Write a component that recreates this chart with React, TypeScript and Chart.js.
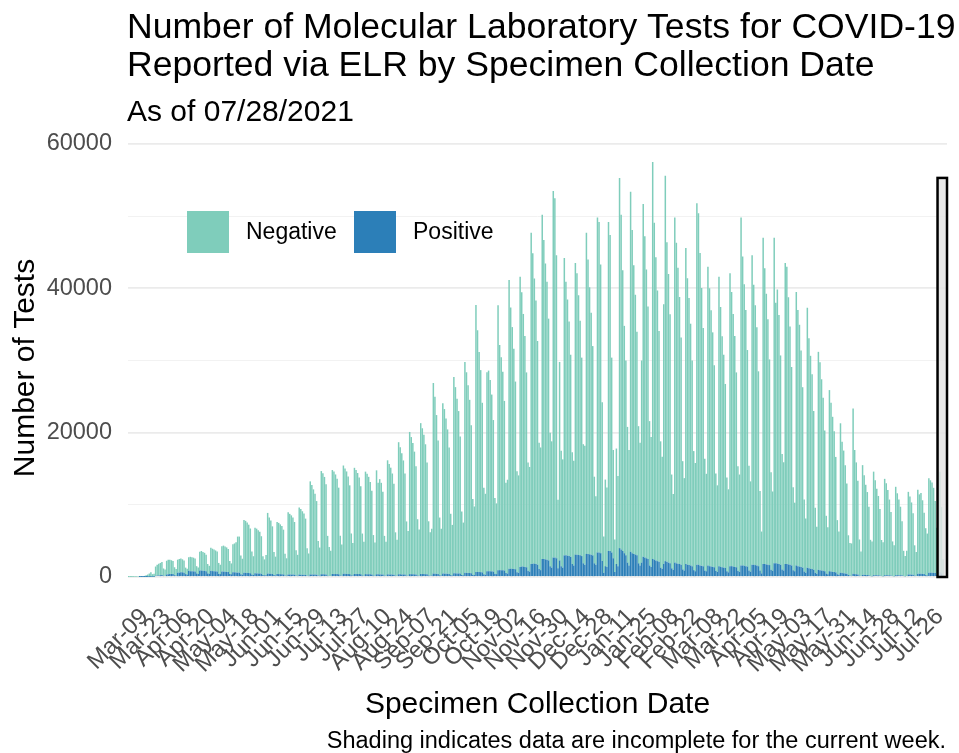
import React, { useEffect, useRef } from 'react';
import { Chart, registerables } from 'chart.js';

Chart.register(...registerables);

const FONT = '"Liberation Sans", Arial, Helvetica, sans-serif';

const titleLines = [
  'Number of Molecular Laboratory Tests for COVID-19',
  'Reported via ELR by Specimen Collection Date',
];
const subtitle = 'As of 07/28/2021';
const yTitle = 'Number of Tests';
const xTitle = 'Specimen Collection Date';
const caption = 'Shading indicates data are incomplete for the current week.';
const seriesNames = ['Negative', 'Positive'];
const seriesColors = ['#7fcdbb', '#2c7fb8'];

// first and last day of the date axis
const startDate = '2020-02-28';
const endDate = '2021-07-30';
// the "current week" shading
const shadeStartDate = '2021-07-25';
const shadeTop = 55300;

const tickDates = [
  '2020-03-09', '2020-03-23', '2020-04-06', '2020-04-20', '2020-05-04', '2020-05-18',
  '2020-06-01', '2020-06-15', '2020-06-29', '2020-07-13', '2020-07-27', '2020-08-10',
  '2020-08-24', '2020-09-07', '2020-09-21', '2020-10-05', '2020-10-19', '2020-11-02',
  '2020-11-16', '2020-11-30', '2020-12-14', '2020-12-28', '2021-01-11', '2021-01-25',
  '2021-02-08', '2021-02-22', '2021-03-08', '2021-03-22', '2021-04-05', '2021-04-19',
  '2021-05-03', '2021-05-17', '2021-05-31', '2021-06-14', '2021-06-28', '2021-07-12',
  '2021-07-26',
];

// daily counts from 2020-02-28, weeks Monday..Sunday
const negative = [
  10, 5, 5,
  20, 30, 40, 60, 90, 40, 30, // Mar 02
  150, 220, 320, 450, 600, 350, 400, // Mar 09
  1300, 1500, 1600, 1700, 1800, 1000, 900, // Mar 16
  1900, 2000, 2000, 1900, 1800, 1100, 900, // Mar 23
  1800, 1900, 1900, 1800, 1700, 900, 800, // Mar 30
  1900, 2000, 1950, 1900, 1800, 1000, 900, // Apr 06
  2600, 2700, 2600, 2500, 2300, 1300, 1100, // Apr 13
  3200, 3100, 3000, 2900, 2800, 1500, 1300, // Apr 20
  3500, 3600, 3500, 3400, 3200, 1800, 1500, // Apr 27
  3900, 4000, 4200, 5000, 5000, 2600, 2200, // May 04
  7300, 7200, 7000, 6700, 6200, 3200, 2600, // May 11
  6300, 6200, 6000, 5800, 5200, 2600, 2200, // May 18
  2800, 8400, 7800, 7400, 6600, 3200, 2600, // May 25
  7200, 7100, 6900, 6700, 6200, 3000, 2400, // Jun 01
  8600, 8400, 8200, 7900, 7300, 3500, 2900, // Jun 08
  9300, 9100, 8800, 8500, 7800, 3800, 3100, // Jun 15
  12900, 12400, 11800, 11200, 10200, 4800, 3900, // Jun 22
  14300, 14000, 13500, 12500, 5500, 4000, 3500, // Jun 29
  14400, 14200, 13800, 13200, 12000, 5500, 4300, // Jul 06
  15000, 14600, 14200, 13500, 12300, 5800, 4500, // Jul 13
  14700, 14400, 14000, 13400, 12200, 5800, 4700, // Jul 20
  14200, 13900, 13500, 12800, 11600, 5600, 4600, // Jul 27
  14400, 12700, 13200, 12700, 11500, 5500, 4700, // Aug 03
  15800, 15300, 14800, 14000, 12600, 6000, 5000, // Aug 10
  18300, 17600, 16800, 15800, 14000, 7500, 6200, // Aug 17
  19700, 19000, 18200, 17000, 15000, 7800, 6400, // Aug 24
  20900, 20200, 19300, 18000, 15500, 7500, 6000, // Aug 31
  6500, 26400, 24500, 22000, 18500, 8000, 6500, // Sep 07
  23600, 22800, 21500, 20000, 17500, 8500, 7000, // Sep 14
  27200, 25800, 24200, 22500, 19000, 8800, 7300, // Sep 21
  29200, 27800, 26000, 24000, 20500, 10500, 9500, // Sep 28
  37000, 33500, 30500, 28000, 23500, 12000, 11200, // Oct 05
  27600, 27800, 26500, 24500, 21000, 10500, 9800, // Oct 12
  36700, 31200, 29500, 27500, 23500, 12500, 13000, // Oct 19
  40000, 36200, 33500, 30500, 26000, 14000, 13500, // Oct 26
  40200, 38000, 35000, 32000, 27000, 15000, 14500, // Nov 02
  45900, 43000, 39500, 36500, 31000, 17500, 17000, // Nov 09
  47700, 44200, 41000, 38500, 33500, 18500, 17500, // Nov 16
  50800, 49800, 42000, 9500, 27500, 16000, 15000, // Nov 23
  41200, 37900, 35500, 32500, 28000, 15500, 14500, // Nov 30
  40400, 39000, 36000, 32500, 27500, 16500, 16500, // Dec 07
  44500, 40800, 37000, 33500, 29000, 12000, 9500, // Dec 14
  46400, 45800, 40000, 22000, 5000, 12000, 11000, // Dec 21
  45600, 43800, 27000, 15000, 4500, 16000, 12500, // Dec 28
  51300, 46400, 38900, 31500, 27000, 18800, 16000, // Jan 04
  49900, 44800, 40000, 36000, 31000, 19000, 17000, // Jan 11
  28000, 48900, 44500, 40000, 35000, 20000, 18000, // Jan 18
  55000, 46700, 42000, 37500, 32000, 17500, 15500, // Jan 25
  36000, 53400, 44300, 40000, 34500, 13000, 10500, // Feb 01
  47800, 44400, 41000, 37000, 31500, 15000, 12800, // Feb 08
  43800, 39700, 37000, 33500, 28500, 16500, 15000, // Feb 15
  50100, 48700, 43300, 38500, 33000, 15500, 13500, // Feb 22
  41400, 38500, 35500, 32500, 28000, 13500, 12000, // Mar 01
  40100, 36000, 32000, 29500, 25500, 13000, 11500, // Mar 08
  40600, 38000, 35000, 32000, 27000, 14500, 13500, // Mar 15
  48200, 42800, 39000, 35500, 30000, 14500, 12500, // Mar 22
  42900, 38800, 36000, 33000, 27000, 11000, 5800, // Mar 29
  45200, 41000, 37500, 34000, 28500, 13500, 11000, // Apr 05
  45100, 36100, 38000, 34500, 29000, 16000, 15000, // Apr 12
  41700, 41200, 37000, 33000, 27500, 11500, 9500, // Apr 19
  37900, 35500, 33500, 30000, 25000, 10000, 7500, // Apr 26
  36000, 31900, 29500, 27000, 22000, 9000, 6500, // May 03
  30200, 28800, 26500, 24000, 19500, 8000, 6500, // May 10
  25100, 23400, 21500, 19500, 16000, 7500, 6000, // May 17
  20700, 18200, 17000, 15000, 12500, 5500, 4500, // May 24
  4500, 22900, 17200, 15500, 13000, 5000, 3400, // May 31
  15200, 13800, 12500, 11500, 9500, 5000, 4800, // Jun 07
  14350, 13150, 12000, 11000, 9200, 5000, 4700, // Jun 14
  13350, 12750, 11800, 10500, 8800, 4800, 4300, // Jun 21
  12250, 11350, 10500, 9500, 7500, 3500, 2800, // Jun 28
  3500, 11450, 10800, 10000, 8500, 4200, 3300, // Jul 05
  11650, 11000, 11200, 10200, 8500, 6500, 5800, // Jul 12
  13100, 12800, 12500, 11800, 10000, 6500, 5500, // Jul 19
  13900, 9200, 2300, // Jul 26
];

const positive = [
  0, 0, 0,
  0, 0, 0, 0, 2, 1, 1, // Mar 02
  5, 10, 20, 30, 50, 40, 40, // Mar 09
  150, 200, 220, 250, 280, 180, 150, // Mar 16
  350, 380, 400, 420, 420, 250, 200, // Mar 23
  600, 600, 650, 650, 600, 400, 350, // Mar 30
  850, 800, 800, 780, 750, 500, 400, // Apr 06
  900, 900, 850, 850, 800, 500, 450, // Apr 13
  850, 820, 800, 780, 750, 450, 400, // Apr 20
  750, 750, 720, 700, 680, 420, 380, // Apr 27
  650, 650, 620, 600, 600, 380, 330, // May 04
  600, 580, 560, 550, 520, 330, 280, // May 11
  520, 500, 480, 470, 450, 280, 240, // May 18
  250, 480, 460, 440, 420, 260, 220, // May 25
  420, 400, 390, 380, 360, 220, 190, // Jun 01
  360, 350, 340, 330, 320, 200, 170, // Jun 08
  330, 320, 310, 300, 290, 180, 160, // Jun 15
  350, 350, 340, 330, 320, 200, 180, // Jun 22
  380, 380, 370, 350, 200, 150, 130, // Jun 29
  420, 420, 410, 400, 380, 220, 190, // Jul 06
  450, 440, 430, 420, 400, 230, 200, // Jul 13
  430, 420, 410, 400, 380, 220, 190, // Jul 20
  400, 390, 380, 370, 350, 210, 180, // Jul 27
  380, 370, 360, 350, 330, 200, 170, // Aug 03
  370, 360, 350, 340, 320, 190, 170, // Aug 10
  380, 370, 360, 350, 330, 200, 180, // Aug 17
  400, 390, 380, 370, 350, 210, 180, // Aug 24
  420, 410, 400, 390, 370, 220, 190, // Aug 31
  200, 480, 460, 440, 400, 240, 200, // Sep 07
  480, 470, 460, 450, 430, 260, 220, // Sep 14
  520, 510, 500, 490, 470, 280, 240, // Sep 21
  580, 570, 560, 550, 520, 310, 270, // Sep 28
  700, 690, 680, 670, 640, 380, 330, // Oct 05
  780, 800, 790, 780, 750, 450, 400, // Oct 12
  950, 950, 940, 930, 900, 550, 480, // Oct 19
  1150, 1150, 1130, 1120, 1080, 650, 580, // Oct 26
  1400, 1450, 1450, 1400, 1350, 850, 750, // Nov 02
  1800, 1850, 1850, 1800, 1700, 1100, 950, // Nov 09
  2500, 2500, 2450, 2400, 2300, 1500, 1300, // Nov 16
  2700, 2700, 2600, 1200, 2300, 1500, 1300, // Nov 23
  3000, 3000, 2950, 2900, 2800, 1800, 1600, // Nov 30
  3100, 3100, 3050, 3000, 2900, 1900, 1700, // Dec 07
  3200, 3200, 3150, 3100, 3000, 1900, 1700, // Dec 14
  3400, 3400, 3300, 2200, 600, 1500, 1400, // Dec 21
  3600, 3600, 3400, 2600, 700, 1800, 1500, // Dec 28
  4000, 3800, 3600, 3300, 3000, 2000, 1600, // Jan 04
  3500, 3300, 3200, 3100, 3000, 1900, 1600, // Jan 11
  2000, 2800, 2700, 2600, 2500, 1600, 1400, // Jan 18
  2500, 2400, 2300, 2200, 2100, 1300, 1150, // Jan 25
  1800, 2200, 2100, 2000, 1900, 1200, 1000, // Feb 01
  2000, 1900, 1850, 1800, 1700, 1050, 900, // Feb 08
  1800, 1700, 1650, 1600, 1500, 950, 800, // Feb 15
  1700, 1700, 1600, 1550, 1500, 900, 800, // Feb 22
  1600, 1500, 1450, 1400, 1350, 850, 700, // Mar 01
  1500, 1400, 1350, 1300, 1250, 800, 650, // Mar 08
  1500, 1500, 1450, 1400, 1350, 850, 700, // Mar 15
  1600, 1600, 1550, 1500, 1450, 900, 750, // Mar 22
  1700, 1700, 1650, 1600, 1500, 900, 500, // Mar 29
  1800, 1800, 1750, 1700, 1650, 1000, 850, // Apr 05
  1900, 1900, 1850, 1800, 1700, 1050, 900, // Apr 12
  1800, 1800, 1750, 1700, 1600, 950, 800, // Apr 19
  1600, 1500, 1450, 1400, 1300, 750, 600, // Apr 26
  1300, 1200, 1150, 1100, 1000, 600, 450, // May 03
  1000, 950, 900, 850, 800, 480, 380, // May 10
  800, 750, 700, 680, 640, 380, 300, // May 17
  600, 550, 520, 500, 460, 280, 220, // May 24
  150, 450, 400, 380, 350, 200, 150, // May 31
  300, 300, 280, 270, 250, 150, 120, // Jun 07
  250, 250, 240, 230, 220, 130, 110, // Jun 14
  250, 250, 240, 230, 220, 130, 110, // Jun 21
  250, 250, 250, 240, 230, 130, 110, // Jun 28
  150, 350, 340, 330, 320, 190, 160, // Jul 05
  450, 450, 440, 430, 420, 260, 220, // Jul 12
  600, 600, 580, 560, 540, 330, 280, // Jul 19
  700, 500, 150, // Jul 26
];

const yTickStep = 10000;
const yLabelStep = 20000;
const yMax = 60000;

const MONTHS = ['Jan', 'Feb', 'Mar', 'Apr', 'May', 'Jun', 'Jul', 'Aug', 'Sep', 'Oct', 'Nov', 'Dec'];

function buildDays(start: string, end: string): string[] {
  const out: string[] = [];
  const d = new Date(start + 'T00:00:00Z');
  const e = new Date(end + 'T00:00:00Z');
  while (d.getTime() <= e.getTime()) {
    out.push(d.toISOString().slice(0, 10));
    d.setUTCDate(d.getUTCDate() + 1);
  }
  return out;
}

function fmtDay(iso: string): string {
  const m = parseInt(iso.slice(5, 7), 10) - 1;
  return `${MONTHS[m]}-${iso.slice(8, 10)}`;
}

export default function App() {
  const ref = useRef<HTMLCanvasElement | null>(null);

  useEffect(() => {
    const canvas = ref.current;
    if (!canvas) return;
    const days = buildDays(startDate, endDate);
    const tickSet = new Set(tickDates);

    const overlay = {
      id: 'overlay',
      afterDatasetsDraw(chart: any) {
        const { ctx, scales } = chart;
        const x = scales.x;
        const y = scales.y;
        const i0 = days.indexOf(shadeStartDate);
        const step = x.getPixelForValue(1) - x.getPixelForValue(0);
        const left = x.getPixelForValue(i0) - step / 2;
        const right = x.getPixelForValue(days.length - 1) + step / 2;
        const top = y.getPixelForValue(shadeTop);
        const bottom = y.getPixelForValue(0);
        ctx.save();
        ctx.fillStyle = 'rgba(228,228,228,0.85)';
        ctx.fillRect(left, top, right - left, bottom - top);
        ctx.strokeStyle = '#000000';
        ctx.lineWidth = 2.5;
        ctx.strokeRect(left, top, right - left, bottom - top);
        ctx.restore();
      },
      afterDraw(chart: any) {
        const { ctx, chartArea } = chart;
        ctx.save();
        ctx.fillStyle = '#000000';
        ctx.textAlign = 'left';
        ctx.textBaseline = 'alphabetic';
        ctx.font = `35.6px ${FONT}`;
        ctx.fillText(titleLines[0], 127, 38);
        ctx.fillText(titleLines[1], 127, 76);
        ctx.font = `30px ${FONT}`;
        ctx.fillText(subtitle, 127, 121);

        // axis titles
        ctx.textAlign = 'center';
        ctx.fillText(xTitle, (chartArea.left + chartArea.right) / 2, 713);
        ctx.save();
        ctx.translate(34, 368);
        ctx.rotate(-Math.PI / 2);
        ctx.fillText(yTitle, 0, 0);
        ctx.restore();

        // caption
        ctx.font = `23.5px ${FONT}`;
        ctx.textAlign = 'right';
        ctx.fillText(caption, 946, 748);

        // legend inside the panel
        const lx = [187, 354];
        const ly = 211;
        const box = 42;
        ctx.font = `23px ${FONT}`;
        ctx.textAlign = 'left';
        ctx.textBaseline = 'middle';
        for (let i = 0; i < seriesNames.length; i++) {
          ctx.fillStyle = seriesColors[i];
          ctx.fillRect(lx[i], ly, box, box);
          ctx.fillStyle = '#000000';
          ctx.fillText(seriesNames[i], lx[i] + box + 17, ly + box / 2 + 1);
        }
        ctx.restore();
      },
    };

    const chart = new Chart(canvas, {
      type: 'bar',
      data: {
        labels: days,
        datasets: [
          {
            label: seriesNames[1],
            data: positive,
            backgroundColor: seriesColors[1],
            barPercentage: 0.95,
            categoryPercentage: 1,
          },
          {
            label: seriesNames[0],
            data: negative,
            backgroundColor: seriesColors[0],
            barPercentage: 0.95,
            categoryPercentage: 1,
          },
        ],
      },
      options: {
        animation: false,
        responsive: false,
        maintainAspectRatio: false,
        layout: { padding: { top: 144, right: 12, bottom: 0, left: 0 } },
        plugins: {
          legend: { display: false },
          title: { display: false },
          tooltip: { enabled: false },
        },
        scales: {
          x: {
            type: 'category',
            stacked: true,
            afterFit: (s: any) => {
              s.height = 176;
              s.paddingLeft = 0;
              s.paddingRight = 0;
            },
            afterBuildTicks: (s: any) => {
              s.ticks = s.ticks.filter((t: any) => tickSet.has(days[t.value]));
            },
            ticks: {
              autoSkip: false,
              maxRotation: 45,
              minRotation: 45,
              padding: 26,
              color: '#4d4d4d',
              font: { family: FONT, size: 23.5 },
              callback: (v: any) => fmtDay(days[v as number]),
            },
            grid: { display: false, drawTicks: false },
            border: { display: false },
          },
          y: {
            stacked: true,
            min: 0,
            max: yMax,
            afterFit: (s: any) => {
              s.width = 128;
            },
            ticks: {
              stepSize: yTickStep,
              padding: 16,
              color: '#4d4d4d',
              font: { family: FONT, size: 23.5 },
              callback: (v: any) => (Number(v) % yLabelStep === 0 ? String(v) : ''),
            },
            grid: {
              drawTicks: false,
              color: (c: any) => (c.tick && c.tick.value % yLabelStep === 0 ? '#ebebeb' : '#f2f2f2'),
              lineWidth: (c: any) => (c.tick && c.tick.value % yLabelStep === 0 ? 1.8 : 1),
            },
            border: { display: false },
          },
        },
      },
      plugins: [overlay],
    });

    return () => {
      chart.destroy();
    };
  }, []);

  return (
    <div style={{ position: 'absolute', left: 0, top: 0, width: 959, height: 753, background: '#ffffff' }}>
      <canvas ref={ref} width={959} height={753} style={{ display: 'block' }} />
    </div>
  );
}
